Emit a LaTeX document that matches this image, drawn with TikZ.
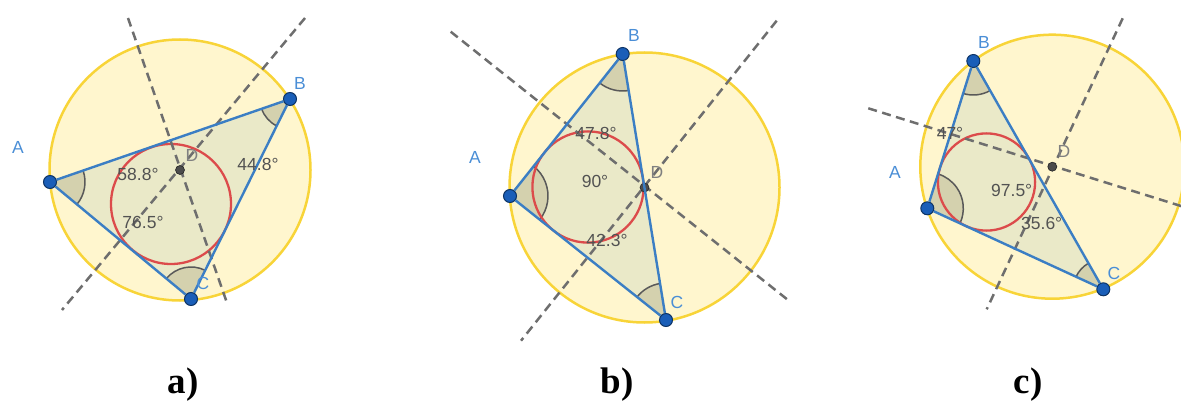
\documentclass[tikz,border=0pt]{standalone}
\usepackage{fontspec}
\setmainfont{Liberation Serif}
\setsansfont{Liberation Sans}
\usetikzlibrary{angles, backgrounds}

\definecolor{ggyellow}{HTML}{FFF6CE}
\definecolor{ggcircle}{HTML}{F8D438}
\definecolor{ggtri}{HTML}{EAE9C8}
\definecolor{ggwedge}{HTML}{D4D1AE}
\definecolor{ggblue}{HTML}{3B7EC4}
\definecolor{ggdot}{HTML}{1A5EB8}
\definecolor{ggred}{HTML}{DC4B4B}
\definecolor{gglabel}{HTML}{4A8ED6}
\definecolor{ggdash}{HTML}{6E6E6E}

\tikzset{
  circum/.style={draw=ggcircle, fill=ggyellow, line width=2.5pt},
  incirc/.style={draw=ggred, line width=2.3pt},
  bisector/.style={draw=ggdash, line width=2.5pt, dash pattern=on 9pt off 5.5pt},
  side/.style={draw=ggblue, line width=2.4pt},
  wedge/.style={draw=black!65, fill=ggwedge, line width=1.5pt},
  vertex/.style={circle, fill=ggdot, draw=ggdot!55!black, line width=1pt, inner sep=0pt, minimum size=13pt},
  centre/.style={circle, fill=black!70, draw=black!85, line width=0.6pt, inner sep=0pt, minimum size=9pt},
  ptlabel/.style={text=gglabel, font=\sffamily\fontsize{17.5}{20}\selectfont},
  dlabel/.style={text=black!50, font=\sffamily\fontsize{17.5}{20}\selectfont},
  anglabel/.style={text=black!68, font=\sffamily\fontsize{17.5}{20}\selectfont},
  panel/.style={anchor=base, font=\bfseries\fontsize{37}{40}\selectfont}
}

\begin{document}
\begin{tikzpicture}[x=1pt, y=1pt]
  \clip (0,0) rectangle (1181,400);

  % a)
  \node[vertex] (aA) at (50,218) {};
  \node[vertex] (aB) at (290,301) {};
  \node[vertex] (aC) at (191,101) {};
  \node[centre] (aD) at (180,230) {};
  \coordinate (aI) at (171,196);
  \coordinate (aU1) at (128,382);
  \coordinate (aV1) at (227,97);
  \coordinate (aU2) at (305,382);
  \coordinate (aV2) at (62,90);
  \begin{scope}[on background layer]
    \draw[circum] (aD) circle (130.5);
    \fill[ggtri] (aA.center) -- (aB.center) -- (aC.center) -- cycle;
    \pic[wedge, angle radius=35pt] {angle = aC--aA--aB};
    \pic[wedge, angle radius=30pt] {angle = aA--aB--aC};
    \pic[wedge, angle radius=32pt] {angle = aB--aC--aA};
    \draw[incirc] (aI) circle (60);
    \draw[bisector] (aU1) -- (aV1);
    \draw[bisector] (aU2) -- (aV2);
  \end{scope}
  \draw[side] (aA) -- (aB) -- (aC) -- (aA);
  \node[ptlabel] (aAl) at (18,253) {A};
  \node[ptlabel] (aBl) at (300,317) {B};
  \node[ptlabel] (aCl) at (203,117) {C};
  \node[dlabel] (aDl) at (192,245) {D};
  \node[anglabel] (aangA) at (138,226) {58.8°};
  \node[anglabel] (aangC) at (143,178) {76.5°};
  \node[anglabel] (aangB) at (258,236) {44.8°};
  \node[panel] (capa) at (183,7) {a)};

  % b)
  \node[vertex] (bA) at (510,204) {};
  \node[vertex] (bB) at (622.7,346) {};
  \node[vertex] (bC) at (666,80) {};
  \node[centre] (bD) at (644.5,212.5) {};
  \coordinate (bI) at (588,213);
  \coordinate (bU1) at (450.7,368.3);
  \coordinate (bV1) at (788,100);
  \coordinate (bU2) at (776.7,379.3);
  \coordinate (bV2) at (521,59.3);
  \begin{scope}[on background layer]
    \draw[circum] (bD) circle (135);
    \fill[ggtri] (bA.center) -- (bB.center) -- (bC.center) -- cycle;
    \pic[wedge, angle radius=38pt] {angle = bC--bA--bB};
    \pic[wedge, angle radius=37pt] {angle = bA--bB--bC};
    \pic[wedge, angle radius=37pt] {angle = bB--bC--bA};
    \draw[incirc] (bI) circle (55.6);
    \draw[bisector] (bU1) -- (bV1);
    \draw[bisector] (bU2) -- (bV2);
  \end{scope}
  \draw[side] (bA) -- (bB) -- (bC) -- (bA);
  \node[ptlabel] (bAl) at (475,243) {A};
  \node[ptlabel] (bBl) at (634,365) {B};
  \node[ptlabel] (bCl) at (677,98) {C};
  \node[dlabel] (bDl) at (657,228) {D};
  \node[anglabel] (bangB) at (596,267) {47.8°};
  \node[anglabel] (bangA) at (595,219) {90°};
  \node[anglabel] (bangC) at (607,160) {42.3°};
  \node[panel] (capb) at (617,7) {b)};

  % c)
  \node[vertex] (cA) at (927.3,191.7) {};
  \node[vertex] (cB) at (973.3,339) {};
  \node[vertex] (cC) at (1103.3,110.7) {};
  \node[centre] (cD) at (1052.3,233.3) {};
  \coordinate (cI) at (986.5,218);
  \coordinate (cU1) at (868.3,291.7);
  \coordinate (cV1) at (1195,189.6);
  \coordinate (cU2) at (1122.7,381.7);
  \coordinate (cV2) at (986.7,90.7);
  \begin{scope}[on background layer]
    \draw[circum] (cD) circle (132);
    \fill[ggtri] (cA.center) -- (cB.center) -- (cC.center) -- cycle;
    \pic[wedge, angle radius=36pt] {angle = cC--cA--cB};
    \pic[wedge, angle radius=34pt] {angle = cA--cB--cC};
    \pic[wedge, angle radius=30pt] {angle = cB--cC--cA};
    \draw[incirc] (cI) circle (48.6);
    \draw[bisector] (cU1) -- (cV1);
    \draw[bisector] (cU2) -- (cV2);
  \end{scope}
  \draw[side] (cA) -- (cB) -- (cC) -- (cA);
  \node[ptlabel] (cAl) at (895,227.3) {A};
  \node[ptlabel] (cBl) at (984,357.3) {B};
  \node[ptlabel] (cCl) at (1114,127) {C};
  \node[dlabel] (cDl) at (1064,248.3) {D};
  \node[anglabel] (cangB) at (950,266.7) {47°};
  \node[anglabel] (cangA) at (1011.7,210) {97.5°};
  \node[anglabel] (cangC) at (1041.7,176.7) {35.6°};
  \node[panel] (capc) at (1028,7) {c)};
\end{tikzpicture}
\end{document}
